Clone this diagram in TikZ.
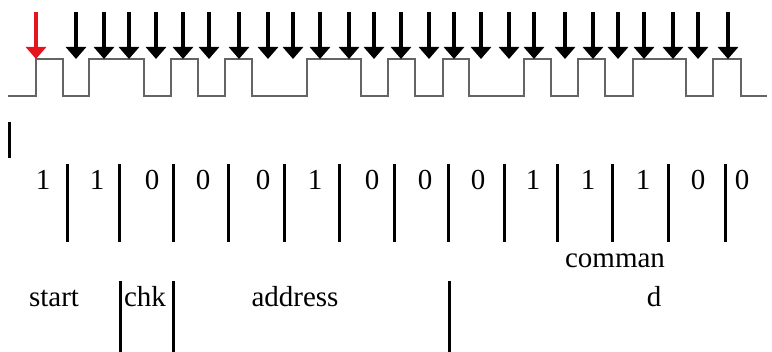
\documentclass[tikz,border=0pt]{standalone}
\usepackage{fontspec}
\setmainfont{Liberation Serif}
\usetikzlibrary{arrows.meta}

\tikzset{every picture/.style={line width=0.75pt}}
\tikzset{
  clk/.style={line width=3.2pt, arrows={-Triangle[width=20pt,length=12pt]}},
  bitbar/.style={line width=3pt},
  wave/.style={color={rgb, 255:red, 100; green, 100; blue, 100 }, line width=1.5pt},
  lbl/.style={anchor=base, inner sep=0pt, font=\fontsize{29}{34}\selectfont},
}

\begin{document}
\begin{tikzpicture}[x=1pt,y=1pt,yscale=-1]
	\useasboundingbox (0,0) rectangle (772,352);

	%Waveform
	\draw [wave] (8,96) -- (36,96) -- (36,59) -- (63,59) -- (63,96) -- (89,96) -- (89,59) -- (144,59) -- (144,96) -- (171,96) -- (171,59) -- (198,59) -- (198,96) -- (225,96) -- (225,59) -- (252,59) -- (252,96) -- (307,96) -- (307,59) -- (361,59) -- (361,96) -- (388,96) -- (388,59) -- (415,59) -- (415,96) -- (443,96) -- (443,59) -- (469,59) -- (469,96) -- (524,96) -- (524,59) -- (551,59) -- (551,96) -- (578,96) -- (578,59) -- (605,59) -- (605,96) -- (633,96) -- (633,59) -- (686,59) -- (686,96) -- (713,96) -- (713,59) -- (741,59) -- (741,96) -- (767,96) ;

	%Sample arrows
	\draw [clk, color={rgb, 255:red, 230; green, 20; blue, 30 }] (36,12) -- (36,59) ;
	\draw [clk] (76,12) -- (76,59) ;
	\draw [clk] (104,12) -- (104,59) ;
	\draw [clk] (129,12) -- (129,59) ;
	\draw [clk] (156,12) -- (156,59) ;
	\draw [clk] (183,12) -- (183,59) ;
	\draw [clk] (209,12) -- (209,59) ;
	\draw [clk] (239,12) -- (239,59) ;
	\draw [clk] (268,12) -- (268,59) ;
	\draw [clk] (293,12) -- (293,59) ;
	\draw [clk] (320,12) -- (320,59) ;
	\draw [clk] (349,12) -- (349,59) ;
	\draw [clk] (374,12) -- (374,59) ;
	\draw [clk] (401,12) -- (401,59) ;
	\draw [clk] (429,12) -- (429,59) ;
	\draw [clk] (454,12) -- (454,59) ;
	\draw [clk] (481,12) -- (481,59) ;
	\draw [clk] (509,12) -- (509,59) ;
	\draw [clk] (534,12) -- (534,59) ;
	\draw [clk] (565,12) -- (565,59) ;
	\draw [clk] (593,12) -- (593,59) ;
	\draw [clk] (618,12) -- (618,59) ;
	\draw [clk] (644,12) -- (644,59) ;
	\draw [clk] (673,12) -- (673,59) ;
	\draw [clk] (698,12) -- (698,59) ;
	\draw [clk] (728,12) -- (728,59) ;

	%Cursor
	\draw [bitbar] (9,122) -- (9,158) ;

	%Bit separators
	\draw [bitbar] (67,164) -- (67,242) ;
	\draw [bitbar] (119,164) -- (119,242) ;
	\draw [bitbar] (173,164) -- (173,242) ;
	\draw [bitbar] (228,164) -- (228,242) ;
	\draw [bitbar] (284,164) -- (284,242) ;
	\draw [bitbar] (339,164) -- (339,242) ;
	\draw [bitbar] (394,164) -- (394,242) ;
	\draw [bitbar] (448,164) -- (448,242) ;
	\draw [bitbar] (504,164) -- (504,242) ;
	\draw [bitbar] (557,164) -- (557,242) ;
	\draw [bitbar] (612,164) -- (612,242) ;
	\draw [bitbar] (668,164) -- (668,242) ;
	\draw [bitbar] (725,164) -- (725,242) ;

	% Text Node
	\node [lbl] (b1) at (43,190) {1};
	\node [lbl] (b2) at (97,190) {1};
	\node [lbl] (b3) at (152,190) {0};
	\node [lbl] (b4) at (203,190) {0};
	\node [lbl] (b5) at (263,190) {0};
	\node [lbl] (b6) at (315,190) {1};
	\node [lbl] (b7) at (372,190) {0};
	\node [lbl] (b8) at (425,190) {0};
	\node [lbl] (b9) at (478,190) {0};
	\node [lbl] (b10) at (533,190) {1};
	\node [lbl] (b11) at (588,190) {1};
	\node [lbl] (b12) at (643,190) {1};
	\node [lbl] (b13) at (698,190) {0};
	\node [lbl] (b14) at (742,190) {0};

	%Field separators
	\draw [bitbar] (120,281) -- (120,352) ;
	\draw [bitbar] (173,281) -- (173,352) ;
	\draw [bitbar] (449,281) -- (449,352) ;

	% Text Node
	\node [lbl] (start) at (54,307) {start};
	\node [lbl] (chk) at (145,307) {chk};
	\node [lbl] (addr) at (295,307) {address};
	\node [lbl] (cmd1) at (615,268) {comman};
	\node [lbl] (cmd2) at (654,307) {d};

\end{tikzpicture}
\end{document}
